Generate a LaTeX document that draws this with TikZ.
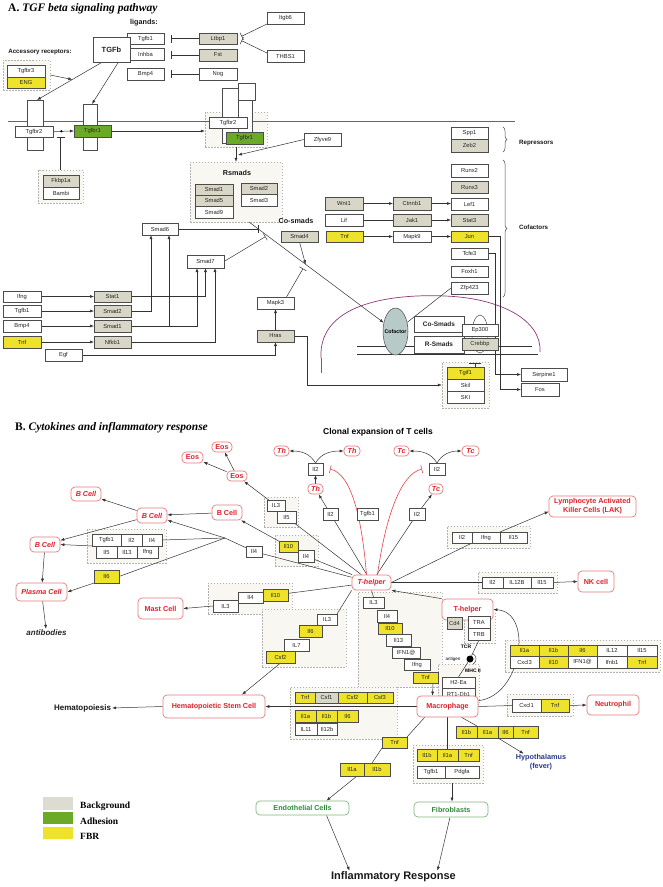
\documentclass[tikz,border=0pt]{standalone}
\usepackage{fontspec}
\setmainfont{Liberation Serif}
\setsansfont{Liberation Sans}
\usetikzlibrary{arrows.meta,decorations.pathreplacing,shapes.geometric,calc}
\definecolor{cgray}{HTML}{D8D6C6}
\definecolor{cgreen}{HTML}{6BAA26}
\definecolor{cyellow}{HTML}{EEE22A}
\definecolor{cbg}{HTML}{F8F7F1}
\definecolor{cred}{HTML}{E0202A}
\definecolor{credb}{HTML}{E67A7A}
\definecolor{cgreent}{HTML}{2E8B3A}
\definecolor{cgreenb}{HTML}{7FB87F}
\definecolor{cblue}{HTML}{2B3A8F}
\definecolor{cpurple}{HTML}{8E3A78}
\definecolor{ccof}{HTML}{B7CAC8}
\definecolor{clegg}{HTML}{DCDCD2}
\newcommand\fsz[1]{\fontsize{#1}{#1}\selectfont}
\newcommand\bx[7]{\node[#6, minimum width={#4-#2}, minimum height={#5-#3}] (#1) at ({(#2+#4)/2},{(#3+#5)/2}) {#7};}
\pgfdeclarelayer{bglayer}
\pgfdeclarelayer{lnlayer}
\pgfsetlayers{bglayer,lnlayer,main}
\tikzset{
 bx/.style={draw=black!70, line width=0.5pt, inner sep=0pt, outer sep=0pt, font=\sffamily\fsz{5.8}, text=black!85},
 wb/.style={bx, fill=white},
 gb/.style={bx, fill=cgray},
 yb/.style={bx, fill=cyellow},
 grb/.style={bx, fill=cgreen},
 dbg/.style={draw=black!30, fill=cbg, line width=0.4pt, inner sep=0pt, dash pattern=on 1.5pt off 1.5pt},
 cell/.style={draw=credb, rounded corners=4pt, line width=0.7pt, fill=white, text=cred, font=\sffamily\bfseries\fsz{7.2}, inner sep=0pt},
 icell/.style={cell, font=\sffamily\bfseries\itshape\fsz{7.2}},
 gcell/.style={cell, draw=cgreenb, text=cgreent},
 arr/.style={draw=black!80, line width=0.5pt, -{Latex[length=4pt,width=3pt]}},
 ln/.style={draw=black!80, line width=0.5pt},
 inh/.style={draw=black!80, line width=0.5pt, -{Bar[width=8pt]}},
 rinh/.style={draw=cred!85, line width=0.6pt, -{Bar[width=8pt]}},
 lbl/.style={font=\sffamily\bfseries\fsz{7.2}, inner sep=0pt, text=black!90},
}
\begin{document}
\begin{tikzpicture}[x=1pt,y=-1pt]
\useasboundingbox (0,0) rectangle (662,887);
\begin{pgfonlayer}{bglayer}
\fill[white] (0,0) rectangle (662,887);
\bx{accbg}{3}{60}{50}{90}{dbg}{}
\bx{fkbg}{38}{170}{83}{203}{dbg}{}
\bx{cxbg}{205}{112}{267}{147}{dbg}{}
\bx{rsbg}{190}{162}{282}{222}{dbg}{}
\bx{tgifbg}{442}{362}{489}{408}{dbg}{}
\bx{bgB1}{87}{529}{166}{563}{dbg}{}
\bx{bgB2}{275}{535}{318}{566}{dbg}{}
\bx{bgB3}{264}{497}{298}{527}{dbg}{}
\bx{bgB4}{447}{526}{530}{548}{dbg}{}
\bx{bgB5}{478}{572}{557}{593}{dbg}{}
\bx{bgB6}{208}{583}{292}{614}{dbg}{}
\bx{bgB7}{262}{609}{346}{667}{dbg}{}
\bx{bgB8}{358}{592}{442}{687}{dbg}{}
\bx{bgTR}{464}{613}{495}{643}{dbg}{}
\bx{bgM}{438}{664}{479}{704}{dbg}{}
\bx{bgB9}{505}{640}{660}{672}{dbg}{}
\bx{bgN}{507}{694}{573}{716}{dbg}{}
\bx{fibbg}{413}{745}{483}{783}{dbg}{}
\bx{bgC}{290}{687}{397}{739}{dbg}{}
\end{pgfonlayer}

% ---------------- Part A ----------------
\node[anchor=west, font=\rmfamily\bfseries\fsz{11.5}, inner sep=0pt] (titA) at (8,9) {A. \itshape TGF beta signaling pathway};
\node[lbl] (lig) at (144,23) {ligands:};
\node[lbl, font=\sffamily\bfseries\fsz{6.2}] (accr) at (40,52) {Accessory receptors:};
\bx{tgfbL}{127}{33}{164}{44}{wb}{Tgfb1}
\bx{inhba}{127}{48}{164}{60}{wb}{Inhba}
\bx{bmpL}{127}{68}{164}{80}{wb}{Bmp4}
\bx{ltbp}{199}{33}{237}{44}{gb}{Ltbp1}
\bx{fst}{199}{49}{237}{61}{gb}{Fst}
\bx{nog}{199}{68}{237}{80}{wb}{Nog}
\bx{itgb}{267}{12}{304}{24}{wb}{Itgb6}
\bx{thbs}{267}{50}{304}{62}{wb}{THBS1}
\bx{tgfb}{93}{37}{130}{62}{wb,font=\sffamily\bfseries\fsz{7.5}}{TGFb}
\bx{tgfbr3}{7}{65}{45}{77}{wb}{Tgfbr3}
\bx{eng}{7}{77}{45}{88}{yb}{ENG}
\bx{r2v}{27}{100}{43}{150}{wb}{}
\bx{r1v}{83}{104}{97}{150}{wb}{}
\bx{tgfbr2L}{15}{126}{53}{137}{wb}{Tgfbr2}
\bx{tgfbr1L}{74}{125}{111}{137}{grb}{Tgfbr1}
\bx{fkbp}{43}{175}{79}{187}{gb}{Fkbp1a}
\bx{bambi}{43}{187}{79}{199}{wb}{Bambi}
\bx{r2vR}{222}{88}{238}{143}{wb}{}
\bx{r1vRs}{238}{100}{252}{143}{wb}{}
\bx{r1vRt}{238}{83}{255}{100}{wb}{}
\bx{tgfbr2R}{209}{117}{247}{128}{wb}{Tgfbr2}
\bx{tgfbr1R}{226}{132}{263}{144}{grb}{Tgfbr1}
\bx{zfy}{304}{133}{341}{146}{wb}{Zfyve9}
\node[lbl] (rsl) at (237,173) {Rsmads};
\bx{rs1}{195}{184}{233}{195}{gb}{Smad1}
\bx{rs5}{195}{195}{233}{206}{gb}{Smad5}
\bx{rs9}{195}{206}{233}{218}{wb}{Smad9}
\bx{rs2}{241}{183}{277}{194}{gb}{Smad2}
\bx{rs3}{241}{194}{277}{206}{wb}{Smad3}
\node[lbl] (csl) at (296,221) {Co-smads};
\bx{smad4}{281}{231}{318}{242}{gb}{Smad4}
\bx{spp1}{451}{127}{488}{139}{wb}{Spp1}
\bx{zeb2}{451}{139}{488}{152}{gb}{Zeb2}
\node[lbl, anchor=west, font=\sffamily\bfseries\fsz{6.2}] (repl) at (519,143) {Repressors};
\bx{runx2}{451}{164}{488}{177}{wb}{Runx2}
\bx{runx3}{451}{181}{488}{193}{gb}{Runx3}
\bx{lef1}{451}{198}{488}{210}{wb}{Lef1}
\bx{stat3}{451}{214}{488}{226}{gb}{Stat3}
\bx{jun}{451}{231}{488}{242}{yb}{Jun}
\bx{tcfe3}{451}{248}{488}{259}{wb}{Tcfe3}
\bx{foxh1}{451}{266}{488}{277}{wb}{Foxh1}
\bx{zfp}{451}{282}{488}{294}{wb}{Zfp423}
\node[lbl, anchor=west, font=\sffamily\bfseries\fsz{6.2}] (cofl) at (519,227) {Cofactors};
\bx{wnt1}{325}{197}{363}{210}{gb}{Wnt1}
\bx{ctnnb1}{393}{197}{431}{210}{gb}{Ctnnb1}
\bx{lif}{325}{214}{363}{226}{wb}{Lif}
\bx{jak1}{393}{214}{431}{226}{gb}{Jak1}
\bx{tnfA}{326}{231}{363}{242}{yb}{Tnf}
\bx{mapk9}{393}{231}{431}{242}{wb}{Mapk9}
\bx{smad6}{142}{223}{178}{235}{wb}{Smad6}
\bx{smad7}{187}{255}{224}{268}{wb}{Smad7}
\bx{ifngA}{3}{291}{41}{302}{wb}{Ifng}
\bx{tgfbA2}{3}{305}{41}{317}{wb}{Tgfb1}
\bx{bmpA2}{3}{320}{41}{332}{wb}{Bmp4}
\bx{tnfA2}{3}{336}{41}{348}{yb}{Tnf}
\bx{egfA}{45}{349}{82}{361}{wb}{Egf}
\bx{stat1A}{94}{291}{131}{302}{gb}{Stat1}
\bx{smad2A}{94}{305}{131}{317}{gb}{Smad2}
\bx{smad1A}{94}{320}{131}{332}{gb}{Smad1}
\bx{nfkbA}{94}{336}{131}{348}{gb}{Nfkb1}
\bx{mapk3}{257}{297}{294}{309}{wb}{Mapk3}
\bx{hras}{257}{330}{294}{342}{gb}{Hras}
\node[ellipse, draw=black!70, fill=ccof, line width=0.5pt, minimum width=25, minimum height=47, inner sep=0pt] (cof) at (395.5,331.5) {};
\node[font=\sffamily\bfseries\fsz{5.3}, inner sep=0pt] (coft) at (cof) {Cofactor};
\bx{cosm}{414}{316}{464}{332}{wb,font=\sffamily\bfseries\fsz{6.5}}{Co-Smads}
\bx{rsm}{414}{336}{464}{353}{wb,font=\sffamily\bfseries\fsz{6.5}}{R-Smads}
\draw[black!70, line width=0.5pt] (480,334) ellipse [x radius=8, y radius=19];
\bx{ep300}{462}{324}{498}{336}{wb}{Ep300}
\bx{crebbp}{462}{338}{498}{350}{gb}{Crebbp}
\bx{serp}{521}{368}{567}{381}{wb}{Serpine1}
\bx{fos}{521}{383}{559}{396}{wb}{Fos}
\bx{tgif1}{447}{367}{484}{379}{yb}{Tgif1}
\bx{skil}{447}{379}{484}{391}{wb}{Skil}
\bx{ski}{447}{391}{484}{403}{wb}{SKI}

% ---------------- Part B ----------------
\node[anchor=west, font=\rmfamily\bfseries\fsz{11.5}, inner sep=0pt] (titB) at (15,428) {B. \itshape Cytokines and inflammatory response};
\node[font=\sffamily\bfseries\fsz{8.5}, inner sep=0pt] (clon) at (378,432) {Clonal expansion of T cells};
\bx{eosA}{182}{452}{203}{463}{cell}{Eos}
\bx{eosB}{212}{442}{232}{452}{cell}{Eos}
\bx{eosC}{227}{471}{247}{481}{cell}{Eos}
\bx{thL}{274}{446}{289}{456}{icell}{Th}
\bx{thR}{344}{446}{360}{456}{icell}{Th}
\bx{thM}{308}{484}{323}{494}{icell}{Th}
\bx{tcL}{394}{446}{409}{456}{icell}{Tc}
\bx{tcR}{462}{446}{479}{456}{icell}{Tc}
\bx{tcM}{429}{484}{443}{494}{icell}{Tc}
\bx{il2t}{308}{463}{323}{475}{wb}{Il2}
\bx{il2tr}{429}{463}{445}{475}{wb}{Il2}
\bx{il2m}{323}{508}{338}{520}{wb}{Il2}
\bx{tgfbB2}{357}{508}{378}{520}{wb}{Tgfb1}
\bx{il2r}{409}{508}{425}{520}{wb}{Il2}
\bx{bc1}{71}{487}{101}{501}{icell}{B Cell}
\bx{bc2}{137}{508}{167}{523}{icell}{B Cell}
\bx{bc3}{212}{505}{242}{520}{cell}{B Cell}
\bx{bc4}{30}{537}{60}{552}{icell}{B Cell}
\bx{plasma}{16}{583}{67}{601}{icell}{Plasma Cell}
\bx{mast}{138}{598}{183}{619}{cell}{Mast Cell}
\node[font=\sffamily\bfseries\itshape\fsz{8}, inner sep=1pt, text=black!85] (antib) at (46.5,633) {antibodies};
\bx{tgfbB1}{92}{534}{121}{546}{wb}{Tgfb1}
\bx{il2a}{121}{534}{142}{546}{wb}{Il2}
\bx{il4a}{142}{534}{162}{546}{wb}{Il4}
\bx{il5a}{96}{546}{117}{558}{wb}{Il5}
\bx{il13a}{117}{546}{137}{558}{wb}{Il13}
\bx{ifnga}{137}{546}{158}{558}{wb}{Ifng}
\bx{il6a}{94}{570}{119}{583}{yb}{Il6}
\bx{il4b}{246}{546}{262}{557}{wb}{Il4}
\bx{il10b}{279}{541}{298}{552}{yb}{Il10}
\bx{il4c}{298}{550}{314}{562}{wb}{Il4}
\bx{il3a}{267}{500}{285}{511}{wb}{IL3}
\bx{il5b}{277}{511}{296}{523}{wb}{Il5}
\bx{th}{352}{575}{391}{590}{icell}{T-helper}
\bx{il2L}{452}{532}{472}{543}{wb}{Il2}
\bx{ifngL}{472}{532}{500}{543}{wb}{Ifng}
\bx{il15L}{500}{532}{527}{543}{wb}{Il15}
\bx{lak}{549}{496}{636}{517}{cell,align=center,font=\sffamily\bfseries\fontsize{7.2}{9}\selectfont}{Lymphocyte Activated\\Killer Cells (LAK)}
\bx{il2N}{482}{577}{503}{588}{wb}{Il2}
\bx{il12N}{503}{577}{531}{588}{wb}{IL12B}
\bx{il15N}{531}{577}{553}{588}{wb}{Il15}
\bx{nk}{578}{571}{614}{592}{cell}{NK cell}
\bx{il3b}{213}{600}{238}{612}{wb}{IL3}
\bx{il4d}{238}{592}{263}{603}{wb}{Il4}
\bx{il10c}{263}{589}{288}{601}{yb}{Il10}
\bx{il3c}{317}{614}{337}{625}{wb}{IL3}
\bx{il6b}{299}{625}{322}{637}{yb}{Il6}
\bx{il7}{284}{639}{309}{651}{wb}{IL7}
\bx{csf2a}{266}{651}{295}{663}{yb}{Csf2}
\bx{il3d}{363}{597}{384}{608}{wb}{IL3}
\bx{il4e}{377}{610}{397}{622}{wb}{Il4}
\bx{il10d}{378}{623}{402}{634}{yb}{Il10}
\bx{il13b}{386}{634}{411}{646}{wb}{Il13}
\bx{ifn1}{392}{647}{420}{658}{wb}{IFN1@}
\bx{ifngb}{404}{659}{430}{670}{wb}{Ifng}
\bx{tnfc}{413}{672}{438}{683}{yb}{Tnf}
\bx{thr}{442}{599}{493}{620}{cell}{T-helper}
\bx{cd4}{447}{617}{462}{629}{gb}{Cd4}
\bx{tra}{468}{616}{490}{628}{wb}{TRA}
\bx{trb}{468}{628}{490}{640}{wb}{TRB}
\node[circle, fill=black, inner sep=0pt, minimum size=7] (ball) at (470,659) {};
\node[font=\sffamily\bfseries\fsz{5}, inner sep=0pt] (tcr) at (466,647) {TCR};
\node[font=\sffamily\fsz{4.5}, inner sep=0pt] (antg) at (453,659) {antigen};
\node[font=\sffamily\bfseries\fsz{5}, inner sep=0pt] (mhc) at (473,671) {MHC II};
\bx{h2ea}{442}{677}{475}{688}{wb}{H2-Ea}
\bx{rt1}{442}{688}{475}{700}{wb}{RT1-Db1}
\bx{macro}{417}{696}{478}{717}{cell}{Macrophage}
\bx{g1}{510}{645}{539}{656}{yb}{Il1a}
\bx{g2}{539}{645}{568}{656}{yb}{Il1b}
\bx{g3}{568}{645}{597}{656}{yb}{Il6}
\bx{g4}{597}{645}{627}{656}{wb}{IL12}
\bx{g5}{627}{645}{657}{656}{wb}{Il15}
\bx{g6}{510}{656}{539}{668}{wb}{Cxcl3}
\bx{g7}{539}{656}{568}{668}{yb}{Il10}
\bx{g8}{568}{656}{597}{668}{wb}{IFN1@}
\bx{g9}{597}{656}{627}{668}{wb}{Ifnb1}
\bx{g10}{627}{656}{657}{668}{yb}{Tnf}
\bx{cxcl1}{512}{699}{541}{712}{wb}{Cxcl1}
\bx{tnfd}{541}{699}{569}{712}{yb}{Tnf}
\bx{neut}{587}{695}{639}{715}{cell}{Neutrophil}
\bx{il1bA}{456}{726}{477}{738}{yb}{Il1b}
\bx{il1aA}{477}{726}{498}{738}{yb}{Il1a}
\bx{il6c}{498}{726}{513}{738}{yb}{Il6}
\bx{tnfe}{513}{726}{538}{738}{yb}{Tnf}
\node[font=\sffamily\bfseries\fontsize{7.3}{9.5}\selectfont, text=cblue, align=center, inner sep=0pt] (hypo) at (541,762) {Hypothalamus\\(fever)};
\bx{il1bB}{417}{749}{437}{761}{yb}{Il1b}
\bx{il1aB}{437}{749}{458}{761}{yb}{Il1a}
\bx{tnff}{458}{749}{479}{761}{yb}{Tnf}
\bx{tgfbB3}{417}{766}{445}{778}{wb}{Tgfb1}
\bx{pdgfa}{445}{766}{479}{778}{wb}{Pdgfa}
\bx{fibro}{414}{802}{488}{817}{gcell}{Fibroblasts}
\bx{endo}{256}{801}{349}{815}{gcell}{Endothelial Cells}
\bx{tnfg}{382}{737}{407}{748}{yb}{Tnf}
\bx{il1aC}{340}{763}{364}{776}{yb}{Il1a}
\bx{il1bC}{364}{763}{390}{776}{yb}{Il1b}
\bx{hsc}{163}{695}{265}{718}{cell}{Hematopoietic Stem Cell}
\node[font=\sffamily\bfseries\fsz{8}, inner sep=1pt, text=black!90] (hemat) at (82.5,708) {Hematopoiesis};
\bx{tnfh}{295}{692}{315}{703}{yb}{Tnf}
\bx{csf1}{315}{692}{338}{703}{gb}{Csf1}
\bx{csf2b}{338}{692}{367}{703}{yb}{Csf2}
\bx{csf3}{367}{692}{393}{703}{yb}{Csf3}
\bx{il1aD}{295}{710}{316}{722}{yb}{Il1a}
\bx{il1bD}{316}{710}{337}{722}{yb}{Il1b}
\bx{il6d}{337}{710}{358}{722}{yb}{Il6}
\bx{il11}{295}{723}{317}{735}{wb}{IL11}
\bx{il12b}{317}{723}{337}{735}{wb}{Il12b}
\node[font=\sffamily\bfseries\fsz{11}, inner sep=1pt, text=black!90] (infl) at (393.5,877) {Inflammatory Response};
% legend
\bx{lg1}{43}{797}{73}{810}{fill=clegg, draw=none}{}
\bx{lg2}{43}{812}{73}{824}{fill=cgreen, draw=none}{}
\bx{lg3}{43}{827}{73}{839}{fill=cyellow, draw=none}{}
\node[anchor=west, font=\rmfamily\bfseries\fsz{9.5}, inner sep=0pt] (lt1) at (80,806) {Background};
\node[anchor=west, font=\rmfamily\bfseries\fsz{9.5}, inner sep=0pt] (lt2) at (80,821) {Adhesion};
\node[anchor=west, font=\rmfamily\bfseries\fsz{9.5}, inner sep=0pt] (lt3) at (80,836) {FBR};

% ---------------- connectors ----------------
\begin{pgfonlayer}{lnlayer}
\draw[ln, black!60] (8,121) -- (515,121);
\draw[ln] (357,346) -- (532,346);
\draw[ln] (357,354) -- (538,354);
\draw[cpurple, line width=0.7pt] (321,358) .. controls (318,300) and (400,294) .. (445,296) .. controls (500,298) and (542,320) .. (540,352);
\draw[ln, black!60] (321,358) -- (321,373);
\draw[inh, shorten >=7pt] (ltbp.west) -- (ltbp.west -| tgfbL.east);
\draw[inh, shorten >=7pt] (fst.west) -- (fst.west -| inhba.east);
\draw[inh, shorten >=7pt] (nog.west) -- (nog.west -| bmpL.east);
\draw[inh, shorten >=5pt] (itgb.south west) -- (ltbp.east);
\draw[inh, shorten >=5pt] ([yshift=-3pt]thbs.north west) -- (ltbp.east);
\draw[arr] ([xshift=-9pt]tgfb.south) -- coordinate[pos=0.46] (engt) ([xshift=2pt]r2v.north);
\draw[arr] ([xshift=7pt]tgfb.south) -- ([xshift=2pt]r1v.north);
\draw[arr] (accbg.east) -- (engt);
\draw[arr] (tgfbr2L.east) -- node[pos=0.4, circle, fill=black, inner sep=0.9pt]{} (tgfbr1L.west);
\coordinate (fkt) at (60.5,137);
\draw[inh] (fkbg.north) -- (fkt);
\draw[arr] (tgfbr1L.east) -- (tgfbr1L.east -| cxbg.west);
\coordinate (zft) at (238,155);
\draw[arr] (zfy.west) -- (zft);
\draw[arr] (cxbg.south) -- (rsbg.north);
\coordinate (dst) at (249,222);
\draw[arr] (dst) -- coordinate[pos=0.07] (s6) coordinate[pos=0.135] (s7) coordinate[pos=0.42] (s4) (cof);
\draw[inh] (smad6.east) -- (smad6.east -| s6);
\draw[inh, shorten >=2pt] (smad7.east) -- (s7);
\draw[arr] (smad4.south) -- (s4);
\draw[inh, shorten >=5pt] ([xshift=11pt]mapk3.north) -- (s4);
\draw[arr] (ifngA) -- (stat1A);
\draw[arr] (tgfbA2) -- (smad2A);
\draw[arr] (bmpA2) -- (smad1A);
\draw[arr] (tnfA2) -- (nfkbA);
\draw[arr] (stat1A.east) -| (smad7.south);
\draw[arr] (smad2A.east) -| ([xshift=-9pt]smad6.south);
\draw[arr] (smad1A.east) -| ([xshift=9pt]smad6.south);
\draw[arr] (smad1A.east) -| ([xshift=-8.5pt]smad7.south);
\draw[arr] (nfkbA.east) -| ([xshift=9.5pt]smad7.south);
\draw[arr] (egfA.east) -| (hras.south);
\draw[arr] (hras.north) -- (mapk3.south);
\draw[arr] (hras.east) -- ++(13,0) |- (tgifbg.west);
\draw[arr] (wnt1) -- (ctnnb1);
\draw[ln] (lif) -- (jak1);
\draw[arr] (tnfA) -- (mapk9);
\draw[arr] (ctnnb1.east) -- (ctnnb1.east -| lef1.west);
\draw[arr] (jak1) -- (stat3);
\draw[arr] (mapk9) -- (jun);
\draw[arr] (jun.east) -- ++(12,0) |- (fos.west);
\draw[arr] (tcfe3.east) -- ++(7,0) |- (serp.west);
\draw[ln] (zfp.west) -- (cof);
\draw[decorate, decoration={brace, amplitude=4pt}, black!70, line width=0.5pt] (503,127) -- (503,152);
\draw[decorate, decoration={brace, amplitude=4pt}, black!70, line width=0.5pt] (503,160) -- (503,297);
\draw[ln] (469,363) -- (481,363) (475,363) -- (475,367);
% part B
\draw[arr] (eosC) -- (eosB);
\draw[arr] (eosC) -- (eosA);
\draw[arr] (il2t.north) to[out=120,in=0] (thL.east);
\draw[arr] (il2t.north) to[out=60,in=180] (thR.west);
\draw[arr] (il2tr.north) to[out=120,in=0] (tcL.east);
\draw[arr] (il2tr.north) to[out=60,in=180] (tcR.west);
\draw[arr] (thM) -- (il2t);
\draw[arr] (il2m) -- (thM);
\draw[arr] (il2r) -- (tcM);
\draw[ln] (th) -- (il2m);
\draw[ln] (th) -- (il2r);
\draw[rinh] ([xshift=-5pt]th.north) .. controls (362,520) and (352,474) .. ([xshift=7pt]il2t.east);
\draw[rinh] ([xshift=6pt]th.north) .. controls (385,520) and (400,474) .. ([xshift=-7pt]il2tr.west);
\draw[ln] (th) -- (il5b);
\draw[arr] (il3a) -- (eosC);
\draw[ln] (th) -- (il4c);
\draw[arr] (il10b) -- (bc3);
\coordinate (hub) at (225,538);
\draw[ln] (th) -- (il4b);
\draw[ln] (il4b) -- (hub);
\draw[arr] (hub) -- (bc2);
\draw[ln] (hub) -- (il4a.east);
\draw[arr] (tgfbB1.south west) -- (bc4.east);
\draw[ln] (hub) -- (il6a.east);
\draw[arr] (il6a.south west) -- (plasma.east);
\draw[arr] (bc3) -- (bc2);
\draw[arr] (bc2) -- (bc1);
\draw[arr] (bc2) -- (bc4);
\draw[arr] (bc4) -- (plasma);
\draw[arr] (plasma) -- (antib);
\draw[ln] (th) -- (il10c);
\draw[arr] (il3b.west) -- (mast.east);
\draw[ln] (th.south west) -- (il3c.north east);
\draw[arr] (csf2a.south) -- ([xshift=28pt]hsc.north);
\draw[ln] (th.south) -- (il3d.north);
\draw[arr] ([xshift=-5pt]tnfc.south east) -- ([xshift=-15pt]macro.north);
\draw[arr] (thr.north west) -- (th.south east);
\draw[ln] (th.east) -- (ifngL.south west);
\draw[arr] (ifngL.north east) -- ([yshift=-5pt]lak.west);
\draw[ln] (th.east) -- (il2N.west);
\draw[arr] (il15N.east) -- (nk.west);
\draw[ln] (trb.south) -- (ball);
\draw[ln] (ball.center) ++(-60:6) arc[start angle=-60, end angle=60, radius=6];
\draw[ln] (ball) -- (h2ea.north);
\draw[arr] ([yshift=-5pt]macro.north east) .. controls (522,696) and (534,612) .. (thr.east);
\draw[ln] (macro.east) -- (cxcl1.west);
\draw[arr] (tnfd.east) -- (neut.west);
\draw[ln] ([xshift=14pt]macro.south) -- (il1aA.north west);
\draw[arr] (il6c.south west) -- ([xshift=8pt]hypo.north west);
\draw[ln] (macro.south) -- (il1aB.north);
\draw[arr] ([xshift=4pt]fibbg.south) -- ([xshift=1pt]fibro.north);
\draw[ln] ([xshift=8pt]macro.south west) -- (tnfg.north east);
\draw[ln] (tnfg.south west) -- ([xshift=-5pt]il1bC.north);
\draw[arr] ([xshift=5pt]il1aC.south) -- ([xshift=24pt]endo.north);
\draw[arr] ([xshift=24pt]endo.south) -- ([xshift=-44pt]infl.north);
\draw[arr] ([xshift=-1pt]fibro.south) -- ([xshift=44pt]infl.north);
\draw[arr] (macro.west) -- (hsc.east);
\draw[arr] (hsc.west) -- (hemat.east);
\end{pgfonlayer}
\end{tikzpicture}
\end{document}
